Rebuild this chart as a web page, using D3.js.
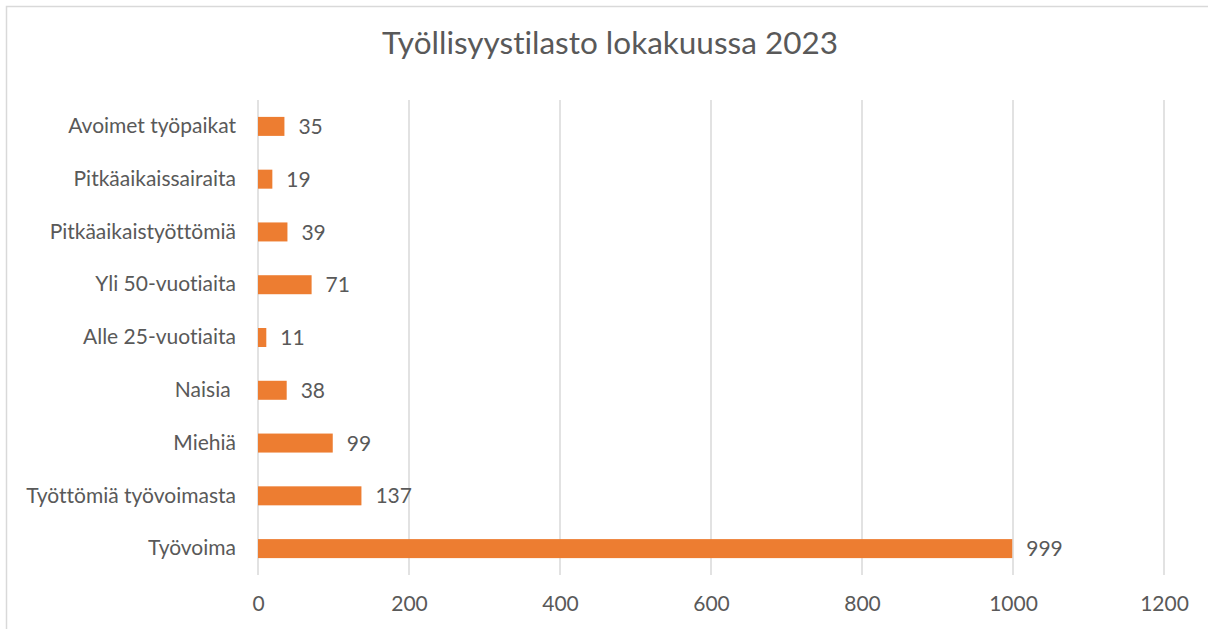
<!DOCTYPE html>
<html>
<head>
<meta charset="utf-8">
<script src="https://cdn.jsdelivr.net/npm/d3@7"></script>
<style>
  body { margin: 0; background: #fff; }
  text { font-family: Lato, "Open Sans", sans-serif; fill: #595959; font-variant-ligatures: none; white-space: pre; }
</style>
</head>
<body>
<div id="chart"></div>
<script>
var categories = ["Avoimet työpaikat", "Pitkäaikaissairaita", "Pitkäaikaistyöttömiä", "Yli 50-vuotiaita",
                  "Alle 25-vuotiaita", "Naisia ", "Miehiä", "Työttömiä työvoimasta", "Työvoima"];
var values = [35, 19, 39, 71, 11, 38, 99, 137, 999];
var xTicks = [0, 200, 400, 600, 800, 1000, 1200];
var title = "Työllisyystilasto lokakuussa 2023";

var width = 1208, height = 629;

var svg = d3.select("#chart")
            .append("svg")
            .attr("width", width)
            .attr("height", height);

// chart frame (top and left edge visible)
svg.append("rect")
   .attr("x", 6.5)
   .attr("y", 6.5)
   .attr("width", 1220)
   .attr("height", 640)
   .attr("fill", "none")
   .attr("stroke", "#d9d9d9")
   .attr("stroke-width", 1.5);

// title
svg.append("text")
   .attr("x", 610)
   .attr("y", 54)
   .attr("text-anchor", "middle")
   .style("font-size", "31.5px")
   .text(title);

var x = d3.scaleLinear()
          .domain([0, 1200])
          .range([258, 1164]);

var y = d3.scaleBand()
          .domain(categories)
          .range([100, 575])
          .paddingInner(0.64)
          .paddingOuter(0.32);

// gridlines
svg.append("g")
   .selectAll("line")
   .data(xTicks)
   .enter()
   .append("line")
     .attr("x1", function(d) { return x(d); })
     .attr("x2", function(d) { return x(d); })
     .attr("y1", 100)
     .attr("y2", 575)
     .attr("stroke", "#d9d9d9")
     .style("stroke-width", 1.5);

// x axis labels
var xAxis = svg.append("g")
   .attr("transform", "translate(0,575)")
   .call(d3.axisBottom(x).tickValues(xTicks).tickFormat(d3.format("d")).tickSize(0).tickPadding(21));
xAxis.select(".domain").remove();
xAxis.selectAll("text")
   .style("font-size", "21px")
   .attr("fill", "#595959");

// y axis labels
var yAxis = svg.append("g")
   .attr("transform", "translate(258,0)")
   .call(d3.axisLeft(y).tickSize(0).tickPadding(22));
yAxis.select(".domain").remove();
yAxis.selectAll("text")
   .style("font-size", "21px")
   .attr("fill", "#595959");

// bars
svg.append("g")
   .selectAll("rect")
   .data(values)
   .enter()
   .append("rect")
     .attr("x", x(0))
     .attr("y", function(d, i) { return y(categories[i]); })
     .attr("width", function(d) { return x(d) - x(0); })
     .attr("height", y.bandwidth())
     .attr("fill", "#ed7d31");

// value labels
svg.append("g")
   .selectAll("text")
   .data(values)
   .enter()
   .append("text")
     .attr("x", function(d) { return x(d) + 14; })
     .attr("y", function(d, i) { return y(categories[i]) + y.bandwidth() / 2; })
     .attr("dy", "0.36em")
     .style("font-size", "21px")
     .text(function(d) { return d; });
</script>
</body>
</html>
